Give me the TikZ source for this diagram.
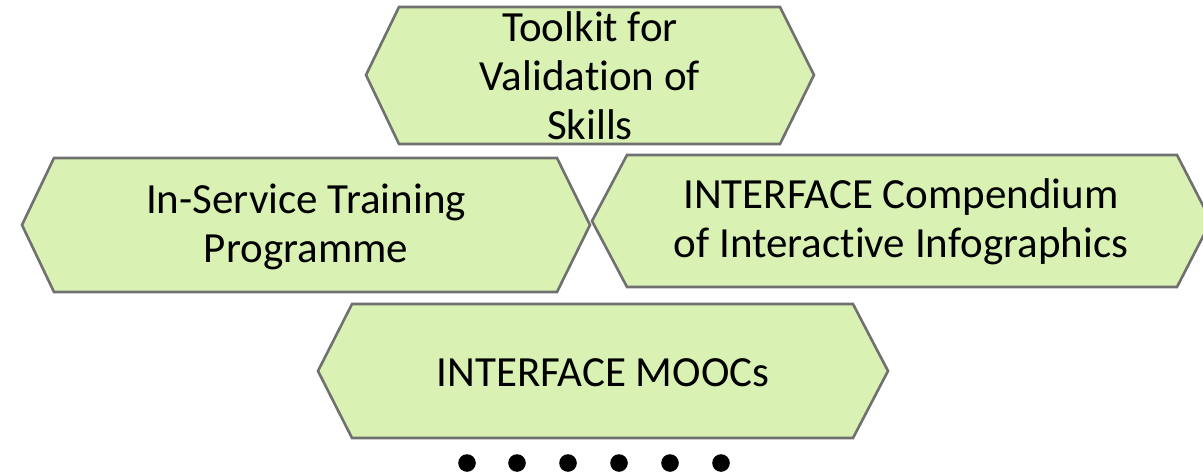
\documentclass[tikz,border=0pt]{standalone}
\usepackage{fontspec}
\setmainfont{Carlito}[Ligatures=NoCommon]
\usetikzlibrary{positioning}

\definecolor{hexfill}{RGB}{217,242,179}
\definecolor{hexline}{RGB}{112,112,112}

\begin{document}
\begin{tikzpicture}[x=1pt,y=-1pt,
  hexbox/.style={draw=hexline,fill=hexfill,line width=2.6pt,line join=miter},
  hextext/.style={inner sep=0pt,align=center,font=\fontsize{43}{49}\selectfont}]

\useasboundingbox (0,0) rectangle (1203,476);

% top
\filldraw[hexbox] (399,7) -- (780,7) -- (814,75) -- (780,144) -- (399,144) -- (366,75) --cycle;
\node[hextext] (toolkit) at (590,76) {Toolkit for\\Validation of\\Skills};

% middle row
\filldraw[hexbox] (54,158) -- (557,158) -- (590,225) -- (557,292) -- (54,292) -- (22,225) --cycle;
\node[hextext] (training) at (306,227) {In-Service Training\\Programme};

\filldraw[hexbox] (627,155) -- (1177,155) -- (1211,221) -- (1177,287) -- (627,287) -- (592,221) --cycle;
\node[hextext] (compendium) at (901,222) {INTERFACE Compendium\\of Interactive Infographics};

% bottom
\filldraw[hexbox] (352,304) -- (853,304) -- (888,371) -- (853,438) -- (352,438) -- (318,371) --cycle;
\node[hextext] (moocs) at (603,373) {INTERFACE MOOCs};

% dots
\foreach \x in {467,517,568,619,670,721}
  \fill[black] (\x,463) circle (8.8);

\end{tikzpicture}
\end{document}
